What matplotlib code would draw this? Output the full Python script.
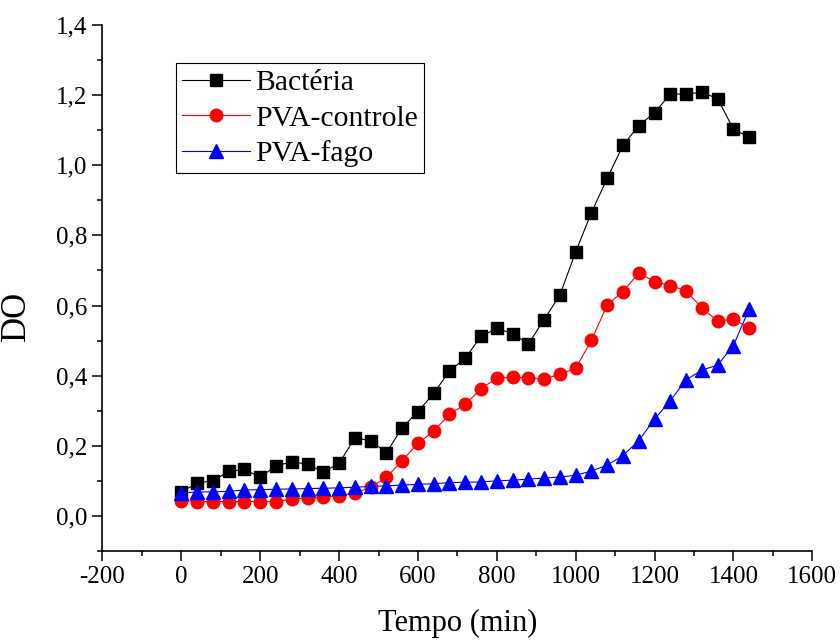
import numpy as np
import matplotlib
matplotlib.use("Agg")
import matplotlib.pyplot as plt
from matplotlib.ticker import MultipleLocator, FuncFormatter

plt.rcParams["font.family"] = ["Liberation Serif", "DejaVu Serif"]
plt.rcParams["axes.unicode_minus"] = False

# time points (min)
tempo = list(range(0, 1441, 40))

bacteria = [0.068, 0.094, 0.100, 0.127, 0.133, 0.110, 0.143, 0.154, 0.148, 0.125,
            0.150, 0.222, 0.215, 0.180, 0.252, 0.297, 0.350, 0.413, 0.450, 0.512,
            0.535, 0.520, 0.490, 0.560, 0.630, 0.753, 0.865, 0.963, 1.057, 1.113,
            1.150, 1.203, 1.203, 1.208, 1.190, 1.103, 1.080]

pva_controle = [0.044, 0.041, 0.041, 0.041, 0.041, 0.041, 0.041, 0.048, 0.052, 0.053,
                0.058, 0.065, 0.082, 0.110, 0.158, 0.207, 0.242, 0.290, 0.318, 0.363,
                0.393, 0.395, 0.394, 0.391, 0.404, 0.421, 0.501, 0.602, 0.640, 0.693,
                0.668, 0.657, 0.642, 0.593, 0.556, 0.561, 0.536]

pva_fago = [0.066, 0.068, 0.069, 0.070, 0.074, 0.075, 0.076, 0.077, 0.078, 0.079,
            0.080, 0.082, 0.084, 0.086, 0.088, 0.090, 0.092, 0.095, 0.096, 0.097,
            0.100, 0.102, 0.105, 0.108, 0.111, 0.116, 0.128, 0.145, 0.172, 0.215,
            0.276, 0.329, 0.388, 0.416, 0.430, 0.486, 0.590]

fig = plt.figure(figsize=(8.4, 6.41), dpi=100)
ax = fig.add_axes([0.122, 0.1404, 0.845, 0.8206])

ax.plot(tempo, bacteria, color="black", lw=0.8, marker="s", ms=8, label="Bactéria")
ax.plot(tempo, pva_controle, color="red", lw=0.8, marker="o", ms=9, label="PVA-controle")
ax.plot(tempo, pva_fago, color="blue", lw=0.8, marker="^", ms=10, label="PVA-fago")

ax.set_xlim(-200, 1600)
ax.set_ylim(-0.1, 1.4)
ax.xaxis.set_major_locator(MultipleLocator(200))
ax.xaxis.set_minor_locator(MultipleLocator(100))
ax.yaxis.set_major_locator(MultipleLocator(0.2))
ax.yaxis.set_minor_locator(MultipleLocator(0.1))
ax.yaxis.set_major_formatter(FuncFormatter(lambda v, p: f"{v:.1f}".replace(".", ",")))

for s in ["top", "right"]:
    ax.spines[s].set_visible(False)
for s in ["left", "bottom"]:
    ax.spines[s].set_linewidth(1.2)

ax.tick_params(which="major", direction="out", length=7, width=1.1, labelsize=18, pad=4)
ax.tick_params(which="minor", direction="out", length=3.5, width=1.1)

ax.set_xlabel("Tempo (min)", fontsize=22, labelpad=15)
ax.set_ylabel("DO", fontsize=25)
ax.yaxis.set_label_coords(-0.098, 0.447)

leg = ax.legend(loc="upper left", bbox_to_anchor=(0.103, 0.927), fontsize=21.3,
                frameon=True, fancybox=False, edgecolor="black", framealpha=1,
                handlelength=2.3, handletextpad=0.2, borderpad=0.2, labelspacing=0.3,
                borderaxespad=0)
leg.get_frame().set_linewidth(0.8)

fig.savefig("out.png", dpi=100)
